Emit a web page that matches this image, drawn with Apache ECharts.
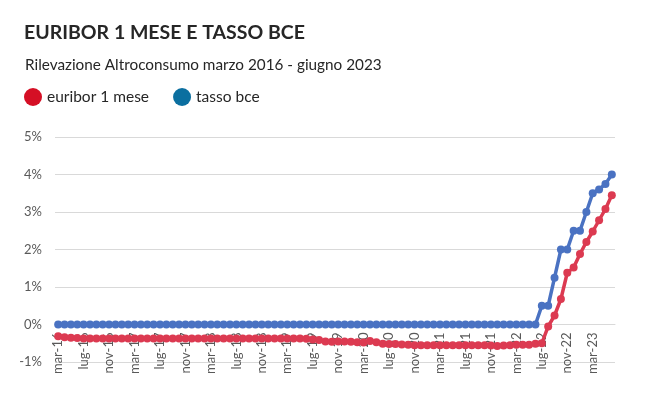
<meta charset="utf-8">
<script src="https://cdn.jsdelivr.net/npm/echarts/dist/echarts.min.js"></script>
<div id="main" style="position:absolute;left:0;top:0;width:650px;height:398px"></div>
<script>
const mesi=['mar-16','apr-16','mag-16','giu-16','lug-16','ago-16','set-16','ott-16','nov-16','dic-16',
'gen-17','feb-17','mar-17','apr-17','mag-17','giu-17','lug-17','ago-17','set-17','ott-17','nov-17','dic-17',
'gen-18','feb-18','mar-18','apr-18','mag-18','giu-18','lug-18','ago-18','set-18','ott-18','nov-18','dic-18',
'gen-19','feb-19','mar-19','apr-19','mag-19','giu-19','lug-19','ago-19','set-19','ott-19','nov-19','dic-19',
'gen-20','feb-20','mar-20','apr-20','mag-20','giu-20','lug-20','ago-20','set-20','ott-20','nov-20','dic-20',
'gen-21','feb-21','mar-21','apr-21','mag-21','giu-21','lug-21','ago-21','set-21','ott-21','nov-21','dic-21',
'gen-22','feb-22','mar-22','apr-22','mag-22','giu-22','lug-22','ago-22','set-22','ott-22','nov-22','dic-22',
'gen-23','feb-23','mar-23','apr-23','mag-23','giu-23']

const euribor=[-0.31,-0.34,-0.35,-0.36,-0.37,-0.37,-0.37,-0.37,-0.37,-0.37,
-0.37,-0.37,-0.37,-0.37,-0.37,-0.37,-0.37,-0.37,-0.37,-0.37,-0.37,-0.37,
-0.37,-0.37,-0.37,-0.37,-0.37,-0.37,-0.37,-0.37,-0.37,-0.37,-0.37,-0.37,
-0.37,-0.37,-0.37,-0.37,-0.37,-0.38,-0.40,-0.41,-0.45,-0.46,-0.45,-0.45,
-0.46,-0.47,-0.48,-0.44,-0.47,-0.51,-0.52,-0.52,-0.53,-0.54,-0.55,-0.55,
-0.55,-0.55,-0.55,-0.55,-0.55,-0.55,-0.55,-0.55,-0.55,-0.55,-0.56,-0.57,
-0.56,-0.55,-0.54,-0.54,-0.54,-0.51,-0.50,-0.05,0.24,0.68,1.38,1.52,
1.88,2.2,2.48,2.78,3.08,3.45]

const bce=[0,0,0,0,0,0,0,0,0,0,
0,0,0,0,0,0,0,0,0,0,0,0,
0,0,0,0,0,0,0,0,0,0,0,0,
0,0,0,0,0,0,0,0,0,0,0,0,
0,0,0,0,0,0,0,0,0,0,0,0,
0,0,0,0,0,0,0,0,0,0,0,0,
0,0,0,0,0,0,0.5,0.5,1.25,2.0,2.0,2.5,
2.5,3.0,3.5,3.6,3.75,4.0]

const yTicks={min:-1,max:5,interval:1}

let myChart=echarts.init(main)
const grigio='#595959'
const gridTop=137, gridBottom=36
// l'asse x sta sullo 0%: lo sposto su di un intervallo
const passo=(398-gridTop-gridBottom)/(yTicks.max-yTicks.min)
myChart.setOption({
  backgroundColor:'#fff',
  textStyle:{fontFamily:'Lato'},
  title:[{
    text:'EURIBOR 1 MESE E TASSO BCE',
    left:19, top:18,
    textStyle:{fontFamily:'Lato',fontWeight:'bold',fontSize:19.5,color:'#262626'}
  },{
    text:'Rilevazione Altroconsumo marzo 2016 - giugno 2023',
    left:20, top:53,
    textStyle:{fontFamily:'Lato',fontWeight:'normal',fontSize:15.3,color:'#262626'}
  }],
  legend:{
    left:19, top:83,
    icon:'circle', itemWidth:18, itemHeight:18, itemGap:24,
    textStyle:{fontFamily:'Lato',fontSize:15.5,color:'#262626'},
    data:[{name:'euribor 1 mese',itemStyle:{color:'#d50f25'}},{name:'tasso bce',itemStyle:{color:'#0b6fa0'}}]
  },
  grid:{left:55,right:35,top:gridTop,bottom:gridBottom,containLabel:false,outerBoundsMode:'none'},
  xAxis:{
    type:'category',
    data:mesi,
    boundaryGap:true,
    offset:-passo,
    axisLine:{onZero:false,lineStyle:{color:'#d9d9d9'}},
    axisTick:{interval:3,length:5,lineStyle:{color:'#d9d9d9'}},
    axisLabel:{interval:3,rotate:90,margin:8,color:grigio,fontSize:13,fontFamily:'Lato'}
  },
  yAxis:{
    type:'value',
    min:yTicks.min,max:yTicks.max,interval:yTicks.interval,
    axisLine:{show:false},axisTick:{show:false},
    axisLabel:{formatter:'{value}%',color:grigio,fontSize:13,margin:13,fontFamily:'Lato'},
    splitLine:{lineStyle:{color:'#d9d9d9'}}
  },
  series:[{
    name:'euribor 1 mese',type:'line',data:euribor,
    symbol:'circle',symbolSize:8,showAllSymbol:true,
    lineStyle:{width:3.5,color:'#dc3a51'},itemStyle:{color:'#dc3a51'}
  },{
    name:'tasso bce',type:'line',data:bce,
    symbol:'circle',symbolSize:8,showAllSymbol:true,
    lineStyle:{width:3.5,color:'#4a72c2'},itemStyle:{color:'#4a72c2'}
  }]
})
</script>
